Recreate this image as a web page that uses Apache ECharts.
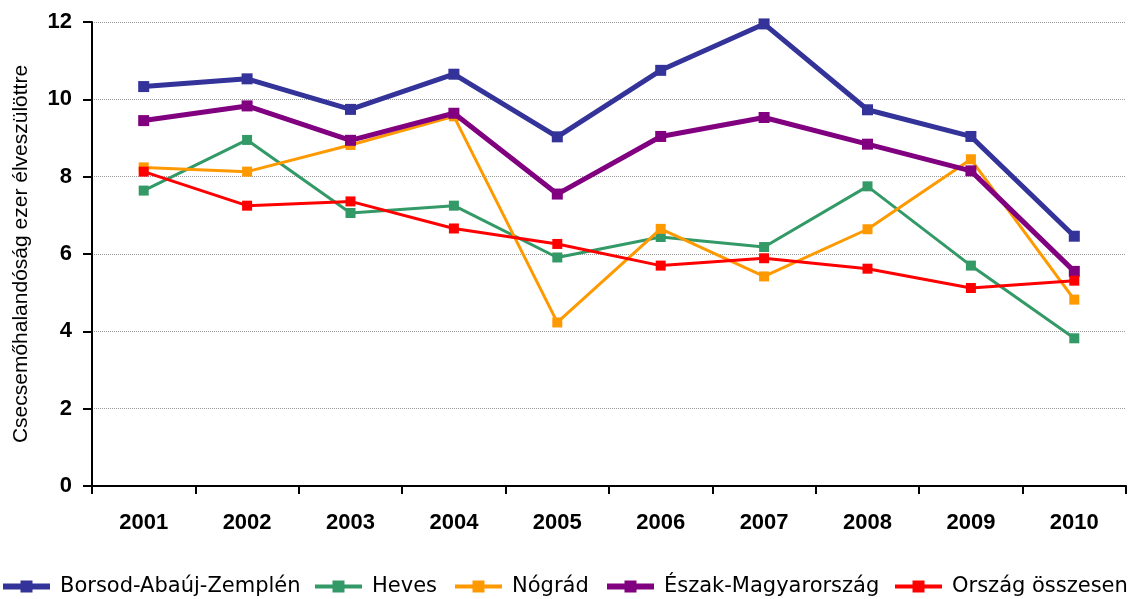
<!DOCTYPE html>
<html>
<head>
<meta charset="utf-8">
<script src="https://cdn.jsdelivr.net/npm/echarts@6/dist/echarts.min.js"></script>
<style>html,body{margin:0;padding:0;background:#fff}#c{width:1137px;height:599px}</style>
</head>
<body>
<div id="c"></div>
<script>
var years = ['2001','2002','2003','2004','2005','2006','2007','2008','2009','2010'];
var yTicks = [0, 2, 4, 6, 8, 10, 12];
var seriesNames = ['Borsod-Abaúj-Zemplén','Heves','Nógrád','Észak-Magyarország','Ország összesen'];
var borsod = [10.33, 10.53, 9.74, 10.65, 9.03, 10.75, 11.95, 9.73, 9.04, 6.46];
var heves  = [7.64, 8.95, 7.06, 7.25, 5.91, 6.44, 6.18, 7.75, 5.70, 3.82];
var nograd = [8.24, 8.13, 8.82, 9.56, 4.23, 6.65, 5.42, 6.64, 8.45, 4.82];
var eszak  = [9.45, 9.83, 8.94, 9.64, 7.55, 9.04, 9.53, 8.84, 8.15, 5.55];
var orszag = [8.13, 7.25, 7.36, 6.66, 6.26, 5.70, 5.89, 5.62, 5.12, 5.31];
var yTitle = 'Csecsemőhalandóság ezer élveszülöttre';

var values = [borsod, heves, nograd, eszak, orszag];
var colors = ['#333399', '#339966', '#FF9900', '#800080', '#FF0000'];
var widths = [5, 3, 3, 5, 3];
var legendWidths = [6, 4, 4, 6, 4];
var sizes = [11, 10, 10, 11, 10];
var legendLeft = [0, 313, 453, 604, 893];

var chart = echarts.init(document.getElementById('c'), null, {renderer: 'canvas'});
var series = seriesNames.map(function (n, i) {
  return {
    name: n, type: 'line', data: values[i],
    symbol: 'rect', symbolSize: sizes[i],
    lineStyle: {color: colors[i], width: widths[i]},
    itemStyle: {color: colors[i]},
    z: 2 + i
  };
});
var legends = seriesNames.map(function (n, i) {
  return {
    data: [n], left: legendLeft[i], top: 576,
    itemWidth: 47, itemHeight: 15, padding: 0,
    lineStyle: {width: legendWidths[i]},
    textStyle: {fontFamily: 'DejaVu Sans', fontSize: 21, color: '#000', padding: [0, 0, 0, 5]}
  };
});
chart.setOption({
  animation: false,
  backgroundColor: '#fff',
  grid: {left: 92, right: 11, top: 22, bottom: 113, containLabel: false},
  legend: legends,
  xAxis: {
    type: 'category', data: years, boundaryGap: true,
    axisLine: {lineStyle: {color: '#000', width: 2}},
    axisTick: {show: true, length: 8, lineStyle: {color: '#000', width: 2}},
    axisLabel: {fontFamily: 'Liberation Sans', fontWeight: 'bold', fontSize: 22, color: '#000', margin: 26},
    splitLine: {show: false}
  },
  yAxis: {
    type: 'value', min: yTicks[0], max: yTicks[yTicks.length - 1], interval: 2,
    name: yTitle, nameLocation: 'middle', nameGap: 60,
    nameTextStyle: {fontFamily: 'Liberation Sans', fontSize: 21, color: '#000'},
    axisLine: {show: true, lineStyle: {color: '#000', width: 2}},
    axisTick: {show: true, length: 9, lineStyle: {color: '#000', width: 2}},
    axisLabel: {fontFamily: 'Liberation Sans', fontWeight: 'bold', fontSize: 22, color: '#000', margin: 20},
    splitLine: {show: true, lineStyle: {color: '#999', type: 'dotted', width: 1}}
  },
  series: series
});
</script>
</body>
</html>
